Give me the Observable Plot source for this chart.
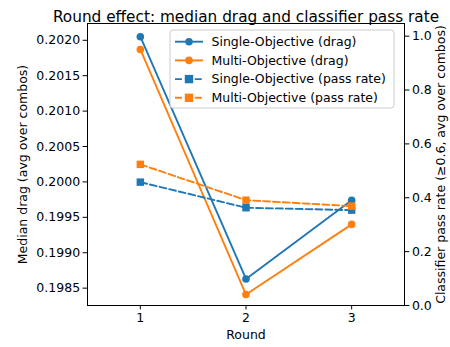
<!DOCTYPE html>
<html>
<head>
<meta charset="utf-8">
<script src="https://cdn.jsdelivr.net/npm/d3@7"></script>
<script src="https://cdn.jsdelivr.net/npm/@observablehq/plot@0.6"></script>
<style>
  body { margin: 0; background: white; }
  #chart svg { display: block; }
</style>
</head>
<body>
<div id="chart"></div>
<script>
const rounds = [1, 2, 3];
const singleDrag = [0.20205, 0.19863, 0.19974];
const multiDrag = [0.20187, 0.19841, 0.19940];
const singlePass = [0.458, 0.363, 0.354];
const multiPass = [0.524, 0.391, 0.369];
const dragTicks = [0.1985, 0.1990, 0.1995, 0.2000, 0.2005, 0.2010, 0.2015, 0.2020];
const passTicks = [0, 0.2, 0.4, 0.6, 0.8, 1.0];
const seriesNames = ["Single-Objective (drag)", "Multi-Objective (drag)", "Single-Objective (pass rate)", "Multi-Objective (pass rate)"];
const colors = ["#1f77b4", "#ff7f0e"];
const title = "Round effect: median drag and classifier pass rate";

const dragLo = 0.198255, dragHi = 0.202237;
const passLo = 0, passHi = 1.047;
const toY = v => dragLo + (v - passLo) / (passHi - passLo) * (dragHi - dragLo);
const fromY = y => passLo + (y - dragLo) / (dragHi - dragLo) * (passHi - passLo);

const mk = (vals) => rounds.map((r, i) => ({x: r, y: vals[i]}));
const sD = mk(singleDrag), mD = mk(multiDrag);
const sP = mk(singlePass.map(toY)), mP = mk(multiPass.map(toY));

const lw = 1.9;
const dash = "6.9,3";
const font = "DejaVu Sans, sans-serif";

const plot = Plot.plot({
  width: 450, height: 347,
  marginTop: 23, marginBottom: 42, marginLeft: 87, marginRight: 46,
  style: {fontFamily: font, fontSize: "12.5px", color: "black", background: "white"},
  x: {domain: [0.5, 3.5]},
  y: {domain: [dragLo, dragHi]},
  marks: [
    Plot.axisX({ticks: rounds, tickFormat: d3.format("d"), tickSize: 4.4, tickPadding: 3, label: null}),
    Plot.axisY({anchor: "left", ticks: dragTicks, tickFormat: d3.format(".4f"), tickSize: 4.4, tickPadding: 3, label: null}),
    Plot.axisY({anchor: "right", ticks: passTicks.map(toY), tickFormat: d => d3.format(".1f")(fromY(d)), tickSize: 4.4, tickPadding: 3, label: null}),
    Plot.line(sD, {x: "x", y: "y", stroke: colors[0], strokeWidth: lw}),
    Plot.dot(sD, {x: "x", y: "y", fill: colors[0], r: 3.8, symbol: "circle"}),
    Plot.line(mD, {x: "x", y: "y", stroke: colors[1], strokeWidth: lw}),
    Plot.dot(mD, {x: "x", y: "y", fill: colors[1], r: 3.8, symbol: "circle"}),
    Plot.line(sP, {x: "x", y: "y", stroke: colors[0], strokeWidth: lw, strokeDasharray: dash}),
    Plot.dot(sP, {x: "x", y: "y", fill: colors[0], r: 4.2, symbol: "square"}),
    Plot.line(mP, {x: "x", y: "y", stroke: colors[1], strokeWidth: lw, strokeDasharray: dash}),
    Plot.dot(mP, {x: "x", y: "y", fill: colors[1], r: 4.2, symbol: "square"}),
    Plot.frame({stroke: "black", strokeWidth: 1}),
    Plot.text([title], {text: d => d, frameAnchor: "top", dy: -12, fontSize: 15.3, textAnchor: "middle"}),
    Plot.text(["Round"], {text: d => d, frameAnchor: "bottom", dy: 33, fontSize: 12.5, textAnchor: "middle"}),
    Plot.text(["Median drag (avg over combos)"], {text: d => d, frameAnchor: "left", dx: -65, rotate: -90, fontSize: 12.5, textAnchor: "middle"}),
    Plot.text(["Classifier pass rate (\u22650.6, avg over combos)"], {text: d => d, frameAnchor: "right", dx: 36, rotate: -90, fontSize: 12.5, textAnchor: "middle"})
  ]
});

document.getElementById("chart").appendChild(plot);

// Legend
const svg = d3.select(plot);
const lg = svg.append("g").attr("text-anchor", "start");
const lx = 170, ly = 30, lwid = 224, lht = 78;
lg.append("rect").attr("x", lx).attr("y", ly).attr("width", lwid).attr("height", lht)
  .attr("rx", 3).attr("fill", "white").attr("fill-opacity", 0.8).attr("stroke", "#cccccc");
seriesNames.forEach((name, i) => {
  const y = 41.7 + i * 18.7;
  const c = colors[i % 2];
  const dashed = i >= 2;
  lg.append("line").attr("x1", 175).attr("x2", 203).attr("y1", y).attr("y2", y)
    .attr("stroke", c).attr("stroke-width", lw).attr("stroke-dasharray", dashed ? dash : null);
  if (dashed) {
    lg.append("rect").attr("x", 189 - 4.2).attr("y", y - 4.2).attr("width", 8.4).attr("height", 8.4).attr("fill", c);
  } else {
    lg.append("circle").attr("cx", 189).attr("cy", y).attr("r", 3.8).attr("fill", c);
  }
  lg.append("text").attr("x", 211.5).attr("y", y).attr("dy", "0.35em").attr("text-anchor", "start")
    .attr("font-family", font).attr("font-size", 12.5).attr("fill", "black").text(name);
});
</script>
</body>
</html>
